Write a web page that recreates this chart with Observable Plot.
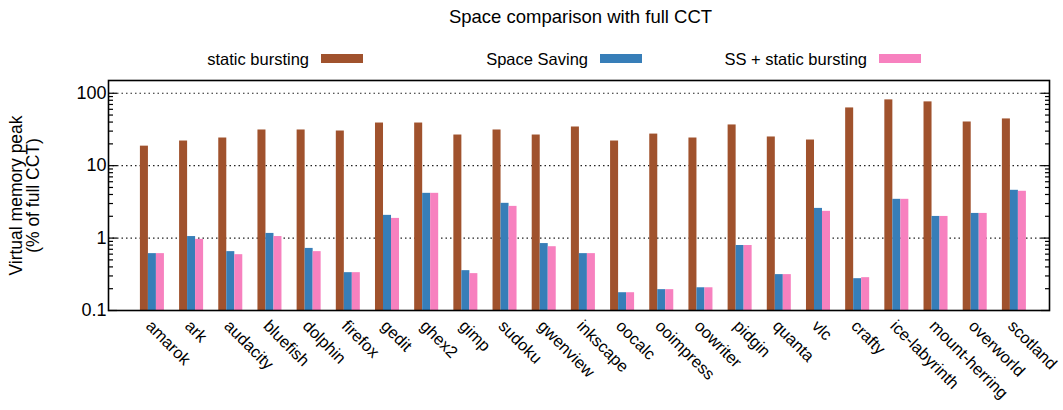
<!DOCTYPE html>
<html>
<head>
<meta charset="utf-8">
<script src="https://cdn.jsdelivr.net/npm/d3@7"></script>
<script src="https://cdn.jsdelivr.net/npm/@observablehq/plot@0.6"></script>
<style>
  html, body { margin: 0; padding: 0; background: #fff; }
  body { font-family: "Liberation Sans", Arial, Helvetica, sans-serif; color: #000; }
  #wrap { position: relative; width: 1063px; height: 410px; overflow: hidden; }
  #title { position: absolute; left: 110px; width: 941px; top: 8px; text-align: center; font-size: 18.5px; line-height: 18px; white-space: nowrap; }
  .lg-text { position: absolute; top: 51px; font-size: 16.5px; line-height: 16.5px; white-space: nowrap; text-align: right; }
  .lg-sw { position: absolute; top: 54px; width: 42px; height: 8.5px; }
  #chart { position: absolute; left: 0; top: 78px; }
</style>
</head>
<body>
<div id="wrap">
  <div id="title">Space comparison with full CCT</div>
  <div id="legend"></div>
  <div id="chart"></div>
</div>
<script>
// ---- data ----
const categories = ["amarok","ark","audacity","bluefish","dolphin","firefox","gedit","ghex2","gimp","sudoku","gwenview","inkscape","oocalc","ooimpress","oowriter","pidgin","quanta","vlc","crafty","ice-labyrinth","mount-herring","overworld","scotland"];
const staticBursting   = [18.6,21.9,24.1,31.1,31.1,30.1,38.8,38.8,26.5,31.1,26.5,34.2,21.9,27.3,24.1,36.5,24.9,22.6,62.7,81.0,76.0,40.1,44.2];
const spaceSaving      = [0.61,1.05,0.65,1.16,0.72,0.333,2.06,4.15,0.355,3.02,0.84,0.61,0.176,0.194,0.206,0.79,0.313,2.57,0.275,3.43,1.99,2.19,4.57];
const ssStaticBursting = [0.61,0.96,0.59,1.05,0.65,0.333,1.87,4.15,0.323,2.74,0.76,0.61,0.176,0.194,0.206,0.79,0.313,2.34,0.284,3.43,1.99,2.19,4.43];
const seriesNames  = ["static bursting", "Space Saving", "SS + static bursting"];
const seriesColors = ["#a0522d", "#377eb8", "#f781bf"];
const yTickValues  = [0.1, 1, 10, 100];
const yTickLabels  = ["0.1", "1", "10", "100"];
const gridValues   = [1, 10, 100];
const yTitle = "Virtual memory peak\n(% of full CCT)";

const seriesValues = [staticBursting, spaceSaving, ssStaticBursting];
const rows = categories.flatMap((c, i) => seriesNames.map((s, j) => ({category: c, series: s, value: seriesValues[j][i]})));
const minorTicks = [0.1, 1, 10].flatMap(d => d3.range(2, 10).map(k => +(k * d).toPrecision(3)));

// ---- legend (HTML) ----
const legendSwatchX = [321, 600, 879];
const legend = document.getElementById("legend");
seriesNames.forEach((s, j) => {
  const t = document.createElement("div");
  t.className = "lg-text";
  t.style.right = (1063 - (legendSwatchX[j] - 12)) + "px";
  t.textContent = s;
  legend.appendChild(t);
  const sw = document.createElement("div");
  sw.className = "lg-sw";
  sw.style.left = legendSwatchX[j] + "px";
  sw.style.background = seriesColors[j];
  legend.appendChild(sw);
});

// ---- chart ----
const barWidth = 8;
const plot = Plot.plot({
  width: 1063,
  height: 332,
  marginTop: 2,
  marginBottom: 100,
  marginLeft: 108,
  marginRight: 14,
  style: {fontFamily: "'Liberation Sans', Arial, Helvetica, sans-serif", background: "#fff", color: "#000"},
  x: {type: "band", domain: categories, paddingInner: 0.387, paddingOuter: 0.702, align: 0.58, round: false, axis: null},
  y: {type: "log", domain: [0.1, 150]},
  marks: [
    Plot.gridY(gridValues, {stroke: "#222", strokeOpacity: 1, strokeWidth: 1.2, strokeDasharray: "1.5,3"}),
    ...seriesNames.map((s, j) => Plot.barY(rows.filter(r => r.series === s), {
      x: "category", y1: () => 0.1, y2: "value", fill: seriesColors[j],
      insetLeft: j * barWidth, insetRight: (2 - j) * barWidth
    })),
    // major / minor ticks, inward, both sides
    Plot.axisY(yTickValues, {anchor: "left", tickSize: 9, insetLeft: 9, fill: "none", label: null, strokeWidth: 1.2}),
    Plot.axisY(minorTicks, {anchor: "left", tickSize: 5, insetLeft: 5, fill: "none", label: null, strokeWidth: 1.2}),
    Plot.axisY(yTickValues, {anchor: "right", tickSize: 9, insetRight: 9, fill: "none", label: null, strokeWidth: 1.2}),
    Plot.axisY(minorTicks, {anchor: "right", tickSize: 5, insetRight: 5, fill: "none", label: null, strokeWidth: 1.2}),
    // tick labels
    Plot.axisY(yTickValues, {anchor: "left", tickSize: 0, tickPadding: 2, fontSize: 18, label: null,
      tickFormat: d => yTickLabels[yTickValues.indexOf(d)]}),
    // category labels
    Plot.text(categories, {x: d => d, text: d => d, frameAnchor: "bottom", rotate: 45,
      textAnchor: "start", lineAnchor: "bottom", dx: -7.5, dy: 16.6, fontSize: 16.5}),
    // y title
    Plot.text([yTitle], {text: d => d, frameAnchor: "left", rotate: -90, textAnchor: "middle",
      lineAnchor: "top", lineHeight: 0.95, dx: -98, fontSize: 17.5}),
    Plot.frame({stroke: "#000", strokeWidth: 1.6})
  ]
});
document.getElementById("chart").appendChild(plot);
</script>
</body>
</html>
